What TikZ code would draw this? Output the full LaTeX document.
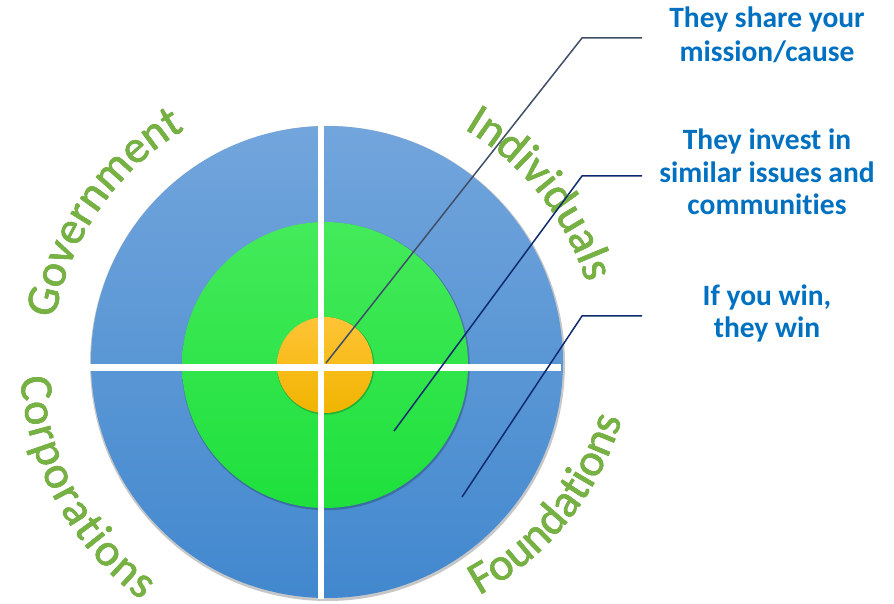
\documentclass[tikz,border=0pt]{standalone}
\usepackage{fontspec}
\setmainfont{Carlito}[Ligatures=NoCommon]
\newfontfamily\lblfnt{Carlito}[FakeBold=1.1]
\usetikzlibrary{decorations.text,calc}
\definecolor{bluetop}{RGB}{114,165,220}
\definecolor{bluebot}{RGB}{66,136,206}
\definecolor{grntop}{RGB}{68,234,90}
\definecolor{grnbot}{RGB}{30,224,60}
\definecolor{ortop}{RGB}{255,196,55}
\definecolor{orbot}{RGB}{240,180,0}
\definecolor{lbl}{RGB}{118,178,66}
\definecolor{lblshadow}{RGB}{80,100,60}
\definecolor{txtblue}{RGB}{0,112,192}
\definecolor{leadA}{RGB}{64,79,104}
\definecolor{leadB}{RGB}{13,43,110}
% #1 colour, #2 centre, #3 radius, #4 start, #5 end, #6 text, #7 alignment
\newcommand\curvlbl[7]{%
  \path[decorate, decoration={text along path,
    text={|\lblfnt\fontsize{46}{52}\selectfont\color{#1}|#6}, text align=#7}]
    ($(#2)+(#4:#3)$) arc[start angle=#4, end angle=#5, radius=#3];}
\newcommand\curvlabel[6]{%
  \begin{scope}[shift={(1.3,-1.7)}, opacity=.45]\curvlbl{lblshadow}{#1}{#2}{#3}{#4}{#5}{#6}\end{scope}
  \curvlbl{lbl}{#1}{#2}{#3}{#4}{#5}{#6}}
\tikzset{
  bltext/.style={font=\fontsize{29.5}{33}\selectfont\bfseries, text=txtblue, inner sep=0pt, anchor=base},
  crossline/.style={white, line width=6.5},
  leaderA/.style={leadA, line width=1.5},
  leaderB/.style={leadB, line width=1.5},
  circshadow/.style={black, opacity=.22}
}
\begin{document}
\begin{tikzpicture}[x=1pt,y=1pt]
\useasboundingbox (0,0) rectangle (894,603);
\coordinate (c) at (325,238);
\coordinate (cc) at (320,244);
\coordinate (cf) at (338,268);
% circles
\fill[circshadow] (327.5,239.5) circle (237.5);
\shade[top color=bluetop, bottom color=bluebot] (327,241) circle (236);
\fill[circshadow] (325.8,236.8) circle (144);
\shade[top color=grntop, bottom color=grnbot] (325,238) circle (143);
\fill[circshadow] (325.6,237.2) circle (48.8);
\shade[top color=ortop, bottom color=orbot] (325,238) circle (48);
% cross
\coordinate (hl) at (82,235.5);
\coordinate (hr) at (561,235.5);
\coordinate (vt) at (321,480);
\coordinate (vb) at (321,4);
\draw[crossline] (hl) -- (hr);
\draw[crossline] (vt) -- (vb);
% curved labels
\curvlabel{c}{274}{178}{113}{Government}{center}
\curvlabel{c}{274}{72}{5}{Individuals}{center}
\curvlabel{cc}{300}{183.5}{233.5}{Corporations}{fit to path}
\curvlabel{cf}{296}{289}{353}{Foundations}{center}
% leaders
\coordinate (p1) at (326,240);
\coordinate (k1) at (582,565);
\coordinate (e1) at (642,565);
\coordinate (p2) at (394,172);
\coordinate (k2) at (582,427);
\coordinate (e2) at (642,427);
\coordinate (p3) at (462,106);
\coordinate (k3) at (582,287);
\coordinate (e3) at (642,287);
\draw[leaderA] (p1) -- (k1) -- (e1);
\draw[leaderB] (p2) -- (k2) -- (e2);
\draw[leaderB] (p3) -- (k3) -- (e3);
% right texts
\node[bltext] (a1) at (767,575) {They share your};
\node[bltext] (a2) at (767,541) {mission/cause};
\node[bltext] (b1) at (767,453) {They invest in};
\node[bltext] (b2) at (767,420) {similar issues and};
\node[bltext] (b3) at (767,388) {communities};
\node[bltext] (d1) at (767,297) {If you win,};
\node[bltext] (d2) at (767,265) {they win};
\end{tikzpicture}
\end{document}
